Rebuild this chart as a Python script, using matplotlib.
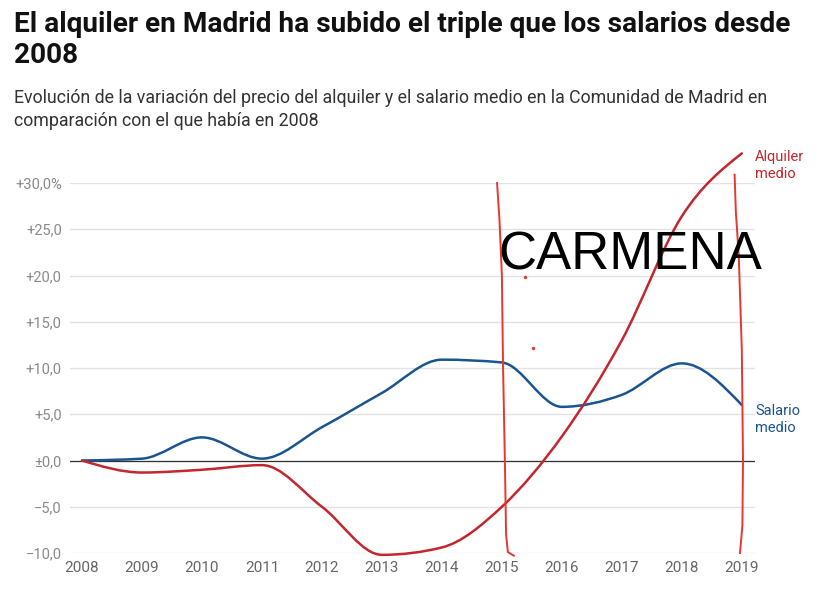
import matplotlib.pyplot as plt
import numpy as np
from matplotlib.path import Path
from matplotlib.patches import PathPatch

years = [2008, 2009, 2010, 2011, 2012, 2013, 2014, 2015, 2016, 2017, 2018, 2019]
alquiler = [0.0, -1.3, -1.0, -0.5, -5.0, -10.2, -9.4, -5.0, 2.6, 13.0, 26.4, 33.2]
salario = [0.0, 0.2, 2.5, 0.2, 3.6, 7.3, 10.9, 10.6, 5.8, 7.1, 10.5, 6.0]

y_ticks = [-10, -5, 0, 5, 10, 15, 20, 25, 30]
y_labels = ["\u221210,0", "\u22125,0", "\u00b10,0", "+5,0", "+10,0", "+15,0", "+20,0", "+25,0", "+30,0%"]

# hand drawn marks over the chart (year, value)
stroke_left_x = [2014.92, 2014.96, 2015.0, 2015.02, 2015.05, 2015.07, 2015.1, 2015.2]
stroke_left_y = [30.0, 26.0, 20.0, 10.0, 0.0, -8.0, -9.9, -10.3]
stroke_right_x = [2018.88, 2018.9, 2018.95, 2019.0, 2019.02, 2019.01, 2018.97]
stroke_right_y = [30.9, 27.0, 22.0, 12.0, 0.0, -7.0, -10.0]
dots_x = [2015.38, 2015.52]
dots_y = [19.8, 12.2]

RED = "#c1272d"
BLUE = "#1a5590"
PEN = "#e8372c"

plt.rcParams["font.family"] = ["Roboto", "DejaVu Sans"]


def monotone_path(xs, ys):
    # monotone cubic (like d3 curveMonotoneX) drawn as bezier segments
    x = np.asarray(xs, float)
    y = np.asarray(ys, float)
    h = np.diff(x)
    s = np.diff(y) / h
    t = np.zeros(len(x))
    for i in range(1, len(x) - 1):
        p = (s[i - 1] * h[i] + s[i] * h[i - 1]) / (h[i - 1] + h[i])
        t[i] = (np.sign(s[i - 1]) + np.sign(s[i])) * min(abs(s[i - 1]), abs(s[i]), 0.5 * abs(p))
    t[0] = (3 * s[0] - t[1]) / 2
    t[-1] = (3 * s[-1] - t[-2]) / 2
    verts = [(x[0], y[0])]
    codes = [Path.MOVETO]
    for i in range(len(x) - 1):
        d = h[i] / 3
        verts += [(x[i] + d, y[i] + d * t[i]), (x[i + 1] - d, y[i + 1] - d * t[i + 1]), (x[i + 1], y[i + 1])]
        codes += [Path.CURVE4] * 3
    return Path(verts, codes)


fig = plt.figure(figsize=(8.34, 6.02), dpi=100)
ax = fig.add_axes([70 / 834, 1 - 553 / 602, (755 - 70) / 834, (553 - 183) / 602])

ax.set_xlim(2007.8, 2019.22)
ax.set_ylim(-10, 30)
for spine in ax.spines.values():
    spine.set_visible(False)
ax.set_yticks(y_ticks)
ax.set_yticklabels(y_labels)
ax.set_xticks(years)
ax.set_xticklabels([str(y) for y in years])
ax.tick_params(length=0, labelsize=10.5, colors="#8a8a8a", pad=6)
ax.tick_params(axis="x", pad=6, colors="#666666", labelsize=11)
ax.grid(axis="y", color="#e2e2e2", linewidth=1)
ax.set_axisbelow(True)
ax.axhline(0, color="#333333", linewidth=0.9, zorder=2)

ax.add_patch(PathPatch(monotone_path(years, salario), facecolor="none", edgecolor=BLUE,
                       linewidth=1.8, zorder=3, clip_on=False, capstyle="round"))
ax.add_patch(PathPatch(monotone_path(years, alquiler), facecolor="none", edgecolor=RED,
                       linewidth=1.8, zorder=3, clip_on=False, capstyle="round"))

ax.text(2019.22, alquiler[-1] - 1.3, "Alquiler\nmedio", color=RED, fontsize=10.5,
        va="center", ha="left", linespacing=1.3)
ax.text(2019.22, salario[-1] - 1.6, "Salario\nmedio", color=BLUE, fontsize=10.5,
        va="center", ha="left", linespacing=1.3)

ax.plot(stroke_left_x, stroke_left_y, color=PEN, linewidth=1.4, clip_on=False, zorder=5)
ax.plot(stroke_right_x, stroke_right_y, color=PEN, linewidth=1.4, clip_on=False, zorder=5)
ax.scatter(dots_x, dots_y, s=2, color=PEN, zorder=5)

fig.text(498 / 834, 1 - 270 / 602, "CARMENA", fontsize=38, family="Liberation Sans",
         color="black", ha="left", va="baseline")

fig.text(14 / 834, 1 - 10.5 / 602, "El alquiler en Madrid ha subido el triple que los salarios desde\n2008",
         fontsize=20.2, fontweight="bold", color="#111111", va="top", linespacing=1.2)
fig.text(14 / 834, 1 - 89 / 602, "Evolución de la variación del precio del alquiler y el salario medio en la Comunidad de Madrid en\ncomparación con el que había en 2008",
         fontsize=12.8, color="#333333", va="top", linespacing=1.35)

fig.savefig("out.png", dpi=100)
